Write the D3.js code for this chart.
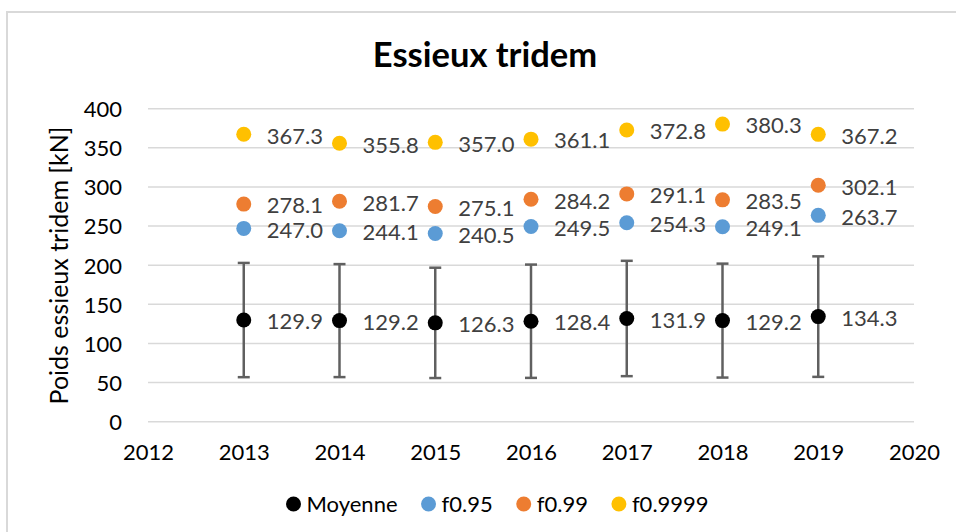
<!DOCTYPE html>
<html>
<head>
<meta charset="utf-8">
<script src="https://cdn.jsdelivr.net/npm/d3@7"></script>
<style>
  html, body { margin: 0; padding: 0; background: #fff; }
  svg { display: block; font-family: Lato, "Open Sans", sans-serif; }
</style>
</head>
<body>
<svg id="chart" width="956" height="532"></svg>
<script>
// Années et statistiques des poids d'essieux tridem [kN]
const years = [2013, 2014, 2015, 2016, 2017, 2018, 2019];
const moyenne = [129.9, 129.2, 126.3, 128.4, 131.9, 129.2, 134.3];
const moyenneErr = [73.0, 72.2, 70.5, 72.4, 73.7, 72.8, 77.0];
const f095 = [247.0, 244.1, 240.5, 249.5, 254.3, 249.1, 263.7];
const f099 = [278.1, 281.7, 275.1, 284.2, 291.1, 283.5, 302.1];
const f09999 = [367.3, 355.8, 357.0, 361.1, 372.8, 380.3, 367.2];
const xTicks = [2012, 2013, 2014, 2015, 2016, 2017, 2018, 2019, 2020];
const yTicks = [0, 50, 100, 150, 200, 250, 300, 350, 400];
const seriesNames = ["Moyenne", "f0.95", "f0.99", "f0.9999"];
const seriesColors = ["#000000", "#5B9BD5", "#ED7D31", "#FFC000"];

const svg = d3.select("#chart");

// Cadre du graphique
svg.append("rect")
  .attr("x", 7).attr("y", 12)
  .attr("width", 960).attr("height", 540)
  .attr("fill", "#fff")
  .attr("stroke", "#d9d9d9").attr("stroke-width", 2);

const x = d3.scaleLinear().domain([2012, 2020]).range([148, 914]);
const y = d3.scaleLinear().domain([0, 400]).range([421.7, 108.7]);

// Quadrillage horizontal
svg.append("g").selectAll("line").data(yTicks).join("line")
  .attr("x1", x(2012)).attr("x2", x(2020))
  .attr("y1", d => y(d)).attr("y2", d => y(d))
  .attr("stroke", "#d9d9d9").attr("stroke-width", 1.5);

// Axe Y
const yAxis = svg.append("g")
  .attr("transform", `translate(${x(2012)},0)`)
  .call(d3.axisLeft(y).tickValues(yTicks).tickSize(0).tickPadding(26));
yAxis.select(".domain").remove();
yAxis.selectAll("text")
  .attr("font-family", "Lato, sans-serif")
  .attr("font-size", 22).attr("fill", "#000").attr("dy", "0.36em");

// Axe X
const xAxis = svg.append("g")
  .attr("transform", `translate(0,${y(0)})`)
  .call(d3.axisBottom(x).tickValues(xTicks).tickFormat(d3.format("d")).tickSize(0).tickPadding(0));
xAxis.select(".domain").remove();
xAxis.selectAll("text")
  .attr("font-family", "Lato, sans-serif")
  .attr("font-size", 22).attr("fill", "#000")
  .attr("y", 30).attr("dy", "0.36em");

// Titre
svg.append("text")
  .attr("x", 485).attr("y", 66.7)
  .attr("text-anchor", "middle")
  .attr("font-size", 34.5).attr("font-weight", "bold").attr("fill", "#000")
  .text("Essieux tridem");

// Titre de l'axe Y
svg.append("text")
  .attr("transform", `translate(59,265.5) rotate(-90)`)
  .attr("text-anchor", "middle").attr("dy", "0.36em")
  .attr("font-size", 25).attr("fill", "#000")
  .text("Poids essieux tridem [kN]");

// Barres d'erreur de la moyenne
const eb = svg.append("g").attr("stroke", "#606060").attr("stroke-width", 2.5);
years.forEach((yr, i) => {
  const top = y(moyenne[i] + moyenneErr[i]);
  const bot = y(moyenne[i] - moyenneErr[i]);
  eb.append("line").attr("x1", x(yr)).attr("x2", x(yr)).attr("y1", top).attr("y2", bot);
  eb.append("line").attr("x1", x(yr) - 6).attr("x2", x(yr) + 6).attr("y1", top).attr("y2", top);
  eb.append("line").attr("x1", x(yr) - 6).attr("x2", x(yr) + 6).attr("y1", bot).attr("y2", bot);
});

// Points et étiquettes de données
const allSeries = [moyenne, f095, f099, f09999];
allSeries.forEach((vals, s) => {
  const g = svg.append("g");
  g.selectAll("circle").data(vals).join("circle")
    .attr("cx", (d, i) => x(years[i]))
    .attr("cy", d => y(d))
    .attr("r", 7.5)
    .attr("fill", seriesColors[s]);
  g.selectAll("text").data(vals).join("text")
    .attr("x", (d, i) => x(years[i]) + 23)
    .attr("y", d => y(d))
    .attr("dy", "0.42em")
    .attr("font-size", 22).attr("fill", "#404040")
    .text(d => d.toFixed(1));
});

// Légende
const legend = svg.append("g");
let lx = 293.5;
seriesNames.forEach((name, s) => {
  legend.append("circle").attr("cx", lx).attr("cy", 504).attr("r", 7.5).attr("fill", seriesColors[s]);
  const t = legend.append("text")
    .attr("x", lx + 13).attr("y", 504).attr("dy", "0.36em")
    .attr("font-size", 22).attr("fill", "#000")
    .text(name);
  const w = t.node().getComputedTextLength();
  lx = lx + 13 + w + 31;
});
</script>
</body>
</html>
